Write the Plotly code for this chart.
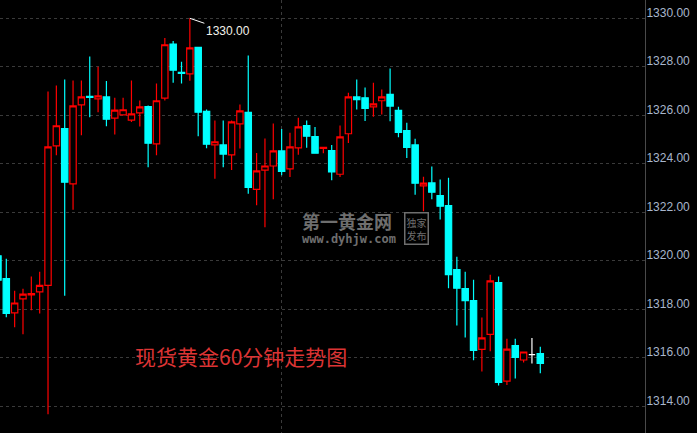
import plotly.graph_objects as go

# ---- data ----
idx = list(range(66))
opens = [1320.21, 1319.27, 1317.85, 1318.43, 1318.59, 1318.72, 1318.99, 1324.74, 1325.45, 1323.17,
         1326.43, 1326.78, 1326.68, 1326.76, 1325.88, 1326.02, 1325.80, 1326.10, 1326.36, 1324.82,
         1326.71, 1328.94, 1327.77, 1327.71, 1328.80, 1326.16, 1324.78, 1324.78, 1324.37, 1325.65,
         1326.12, 1322.95, 1323.74, 1323.91, 1324.53, 1323.79, 1324.66, 1325.58, 1325.12, 1324.64,
         1324.55, 1323.57, 1325.24, 1326.76, 1326.72, 1326.35, 1326.60, 1326.86, 1326.20, 1325.37,
         1324.78, 1323.09, 1323.21, 1322.69, 1322.28, 1319.64, 1318.85, 1318.36, 1316.35, 1316.97,
         1319.10, 1315.04, 1316.50, 1315.91, 1316.13, 1316.17]
highs = [1320.40, 1320.09, 1318.77, 1318.85, 1319.35, 1319.55, 1326.98, 1327.23, 1327.48, 1327.44,
         1327.44, 1328.43, 1328.00, 1327.42, 1326.72, 1326.72, 1327.44, 1326.61, 1326.40, 1327.31,
         1329.19, 1329.06, 1328.21, 1330.00, 1328.80, 1326.24, 1325.79, 1325.79, 1325.79, 1326.45,
         1328.47, 1324.45, 1325.04, 1325.66, 1325.44, 1325.28, 1325.90, 1325.79, 1325.52, 1324.70,
         1324.78, 1325.58, 1326.93, 1327.48, 1327.15, 1327.34, 1327.06, 1327.93, 1326.35, 1325.69,
         1325.03, 1323.47, 1323.89, 1323.35, 1323.43, 1320.17, 1319.55, 1319.22, 1317.66, 1319.43,
         1319.35, 1316.79, 1316.79, 1316.24, 1316.82, 1316.46]
lows = [1319.00, 1317.67, 1317.26, 1316.97, 1317.96, 1317.83, 1313.67, 1324.35, 1318.56, 1322.11,
        1325.18, 1325.92, 1326.13, 1325.55, 1325.21, 1326.00, 1325.72, 1325.54, 1323.86, 1324.35,
        1326.61, 1327.34, 1327.31, 1327.43, 1325.14, 1324.64, 1323.38, 1323.86, 1323.74, 1324.63,
        1322.77, 1322.29, 1321.38, 1322.54, 1323.53, 1323.46, 1324.37, 1324.66, 1324.44, 1324.44,
        1323.32, 1323.46, 1324.86, 1326.24, 1325.77, 1325.94, 1326.03, 1325.76, 1325.10, 1324.24,
        1322.72, 1322.04, 1322.54, 1321.70, 1318.87, 1317.33, 1316.84, 1315.90, 1315.44, 1316.27,
        1314.86, 1314.88, 1315.15, 1315.81, 1315.77, 1315.36]
closes = [1319.20, 1317.83, 1318.26, 1318.63, 1318.65, 1318.99, 1324.70, 1325.57, 1323.24, 1326.39,
          1326.76, 1326.74, 1326.80, 1325.84, 1326.21, 1326.23, 1326.06, 1326.35, 1324.85, 1326.60,
          1328.91, 1327.86, 1327.73, 1328.78, 1326.13, 1324.81, 1324.91, 1324.40, 1325.73, 1326.18,
          1323.03, 1323.71, 1323.91, 1324.53, 1323.69, 1324.70, 1325.52, 1325.14, 1324.44, 1324.68,
          1323.67, 1325.11, 1326.76, 1326.65, 1326.29, 1326.47, 1326.76, 1326.38, 1325.30, 1324.68,
          1323.20, 1323.20, 1322.83, 1322.25, 1319.43, 1318.87, 1318.36, 1316.31, 1316.82, 1319.17,
          1314.99, 1316.36, 1316.02, 1316.24, 1316.13, 1315.77]
y_ticks = [1314, 1316, 1318, 1320, 1322, 1324, 1326, 1328, 1330]
y_tick_labels = ["%.2f" % v for v in y_ticks]
session_break = [34]
peak_index = 23
peak_value = 1330.00
title_text = "现货黄金60分钟走势图"

# split flat (open == close) candles into a neutral white trace
main_i = [i for i in idx if opens[i] != closes[i]]
flat_i = [i for i in idx if opens[i] == closes[i]]

RED = "#ff0000"
CYAN = "#00ffff"

fig = go.Figure()
fig.add_trace(go.Candlestick(
    x=[idx[i] for i in main_i],
    open=[opens[i] for i in main_i], high=[highs[i] for i in main_i],
    low=[lows[i] for i in main_i], close=[closes[i] for i in main_i],
    increasing=dict(line=dict(color=RED, width=1.2), fillcolor="#000000"),
    decreasing=dict(line=dict(color=CYAN, width=1.2), fillcolor=CYAN),
    whiskerwidth=0, showlegend=False, hoverinfo="skip"))
fig.add_trace(go.Candlestick(
    x=[idx[i] for i in flat_i],
    open=[opens[i] for i in flat_i], high=[highs[i] for i in flat_i],
    low=[lows[i] for i in flat_i], close=[closes[i] for i in flat_i],
    increasing=dict(line=dict(color="#ffffff", width=1.2), fillcolor="#ffffff"),
    decreasing=dict(line=dict(color="#ffffff", width=1.2), fillcolor="#ffffff"),
    whiskerwidth=0, showlegend=False, hoverinfo="skip"))

fig.update_layout(
    width=697, height=433,
    margin=dict(l=0, r=52, t=0, b=0),
    paper_bgcolor="#000000", plot_bgcolor="#000000",
    boxgap=0.24, boxgroupgap=0, boxmode="overlay",
    xaxis=dict(range=[0.245, 77.55], rangeslider=dict(visible=False),
               tickvals=session_break, showticklabels=False, ticks="",
               showgrid=True, gridcolor="#3a3a3a", griddash="dot", gridwidth=1,
               zeroline=False, showline=False, fixedrange=True),
    yaxis=dict(side="right", range=[1312.90, 1330.755],
               tickvals=y_ticks, ticktext=y_tick_labels, ticks="",
               tickfont=dict(family="Liberation Sans, Arial", size=12, color="#a8b6cc"),
               ticklabelshift=-6, ticklabelstandoff=-2,
               showgrid=True, gridcolor="#3a3a3a", griddash="dot", gridwidth=1,
               showline=True, linecolor="#4a4a4a", linewidth=1,
               zeroline=False, fixedrange=True),
    font=dict(family="Liberation Sans, Arial"),
)

annotations = [
    dict(x=peak_index, y=peak_value, xref="x", yref="y", text="1330.00",
         showarrow=True, arrowhead=0, arrowwidth=1, arrowcolor="#ffffff",
         ax=38, ay=13, font=dict(size=12, color="#f2f2ea", family="Liberation Sans, Arial")),
    dict(x=0.2067, y=0.178, xref="paper", yref="paper", xanchor="left", yanchor="middle",
         text=title_text, showarrow=False,
         font=dict(size=21, color="#dc3434", family="Noto Sans CJK SC")),
    dict(x=0.465, y=0.489, xref="paper", yref="paper", xanchor="left", yanchor="middle",
         text="<b>第一黄金网</b>", showarrow=False,
         font=dict(size=18, color="#6e6e6e", family="Noto Sans CJK SC")),
    dict(x=0.465, y=0.447, xref="paper", yref="paper", xanchor="left", yanchor="middle",
         text="<b>www.dyhjw.com</b>", showarrow=False,
         font=dict(size=12, color="#6e6e6e", family="DejaVu Sans Mono")),
    dict(x=0.645, y=0.4723, xref="paper", yref="paper", xanchor="center", yanchor="middle",
         text="独家<br>发布", showarrow=False, bordercolor="#6e6e6e", borderwidth=1.5,
         borderpad=1, font=dict(size=10, color="#6e6e6e", family="Noto Sans CJK SC")),
]
fig.update_layout(annotations=annotations)

fig.write_html("out.html", config={"displayModeBar": False},
               post_script="document.body.style.margin='0px';")
